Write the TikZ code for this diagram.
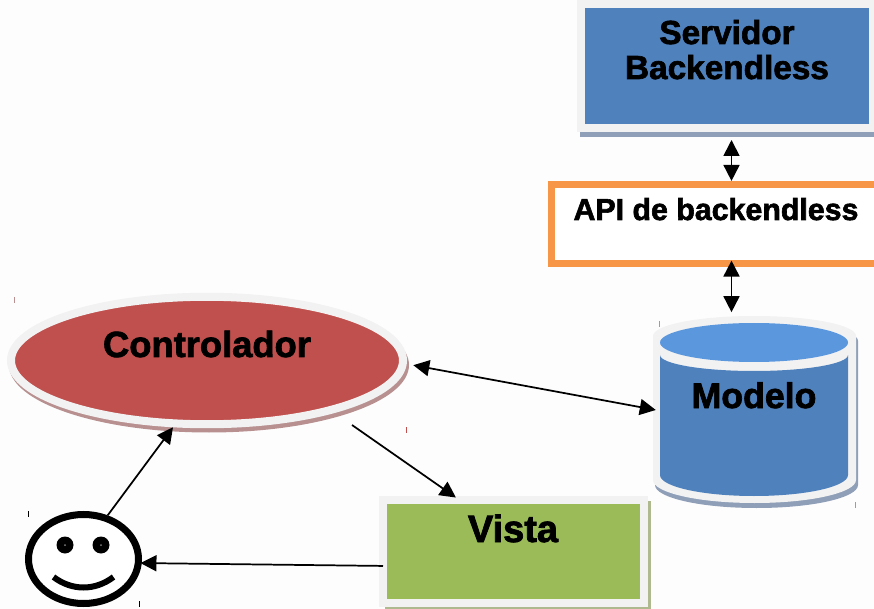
\documentclass[tikz,border=0pt]{standalone}
\usepackage{fontspec}
\setmainfont{Liberation Sans}[BoldFeatures={FakeBold=2}]
\usetikzlibrary{arrows.meta,shapes.geometric}
\definecolor{bgwhite}{HTML}{FDFDFD}
\definecolor{framegray}{HTML}{F2F2F2}
\definecolor{boxblue}{HTML}{4F81BD}
\definecolor{capblue}{HTML}{5B97DD}
\definecolor{boxred}{HTML}{C0504D}
\definecolor{boxgreen}{HTML}{9BBB59}
\definecolor{boxorange}{HTML}{F79646}
\definecolor{shadowblue}{HTML}{8F9FB8}
\definecolor{shadowred}{HTML}{B89090}
\definecolor{shadowgreen}{HTML}{AEB98F}
\tikzset{
	framed/.style = {draw = framegray, line width = 6pt, inner sep = 0pt},
	bigarrow/.style = {{Triangle[length = 12pt, width = 12pt]}-{Triangle[length = 12pt, width = 12pt]}, line width = 1.3pt},
	onearrow/.style = {-{Triangle[length = 12pt, width = 12pt]}, line width = 1.3pt},
	labeltext/.style = {font = \fontsize{#1}{30}\selectfont\bfseries, anchor = base, inner sep = 0pt},
}
\begin{document}
\begin{tikzpicture}[x = 0.75pt, y = -0.75pt]
	\useasboundingbox (0,0) rectangle (874,609);
	\clip (0,0) rectangle (874,609);
	\fill[bgwhite] (0,0) rectangle (874,609);
	
	% servidor
	\fill[shadowblue] (580,125) rectangle (880,137);
	\node[framed, fill = boxblue, minimum width = 219pt, minimum height = 93pt] (servidor) at (727,66) {};
	\node[labeltext = 25] (servidorA) at (727,44) {Servidor};
	\node[labeltext = 25] (servidorB) at (727,79) {Backendless};
	
	% api
	\node[draw = boxorange, fill = white, line width = 5.25pt, inner sep = 0pt, minimum width = 250pt, minimum height = 59pt] (api) at (718,223.75) {};
	\node[labeltext = 22.75] (apiText) at (716,220) {API de backendless};
	
	% modelo
	\fill[shadowblue] (655,341) arc [start angle = 180, end angle = 360, x radius = 101.5, y radius = 20] -- (858,485) arc [start angle = 0, end angle = 180, x radius = 101.5, y radius = 23] -- cycle;
	\fill[framegray] (653,336) arc [start angle = 180, end angle = 360, x radius = 101.5, y radius = 20] -- (856,480) arc [start angle = 0, end angle = 180, x radius = 101.5, y radius = 23] -- cycle;
	\fill[boxblue] (660,355) arc [start angle = 180, end angle = 0, x radius = 94, y radius = 16] -- (848,475) arc [start angle = 0, end angle = 180, x radius = 94, y radius = 21] -- cycle;
	\fill[capblue] (754,342.5) ellipse [x radius = 94, y radius = 19.5];
	\node[minimum width = 152pt, minimum height = 140pt, inner sep = 0pt, outer sep = 0pt] (modelo) at (754.5,409.5) {};
	\node[labeltext = 26.75] (modeloText) at (754,408) {Modelo};
	
	% controlador
	\fill[shadowred] (209,365) ellipse [x radius = 200, y radius = 67.5];
	\node[framed, ellipse, fill = boxred, minimum width = 294pt, minimum height = 95.6pt] (controlador) at (207,360.5) {};
	\node[labeltext = 27.25] (controladorText) at (207,357) {Controlador};
	
	% vista
	\fill[shadowgreen] (385,501) rectangle (651,609);
	\node[framed, fill = boxgreen, minimum width = 195.75pt, minimum height = 77.6pt] (vista) at (513.5,551.75) {};
	\node[labeltext = 28.5] (vistaText) at (513,542) {Vista};
	
	% cara
	\node[ellipse, draw = black, fill = white, line width = 5.25pt, inner sep = 0pt, minimum width = 82.5pt, minimum height = 66.75pt] (cara) at (83.5,559) {};
	\foreach \ojo in {65,101} {
		\fill[black] (\ojo,545) circle [radius = 8.5];
		\fill[gray] (\ojo,545) circle [radius = 1];
	}
	\draw[line width = 4.5pt] (53.5,577) .. controls (72,591) and (95,591) .. (113.5,577);
	
	% free ends
	\coordinate (eje) at (731.5,0);
	\coordinate (salida) at (352,425);
	
	% arrows
	\draw[bigarrow, shorten <= 6pt] (servidor.south -| eje) -- (api.north -| eje);
	\draw[bigarrow, shorten <= -4.5pt, shorten >= 3pt] (api.south -| eje) -- (modelo.north -| eje);
	\draw[bigarrow, shorten <= 5pt, shorten >= -2pt] (controlador.-1) -- (modelo.west);
	\draw[onearrow] (cara.61) -- (controlador.243);
	\draw[onearrow, shorten >= -2pt] (salida) -- (vista.137);
	\draw[onearrow, shorten <= -3pt, shorten >= -1pt] (vista.186) -- (cara.-4);
	
	% small marks
	\foreach \mx/\my/\mc in {14/300/shadowred, 406/430/boxred, 28/514/black, 139/604/black, 659/324/shadowblue, 855/505/shadowblue} {
		\draw[\mc, line width = 0.75pt] (\mx,\my-3) -- (\mx,\my+3);
	}
\end{tikzpicture}
\end{document}
